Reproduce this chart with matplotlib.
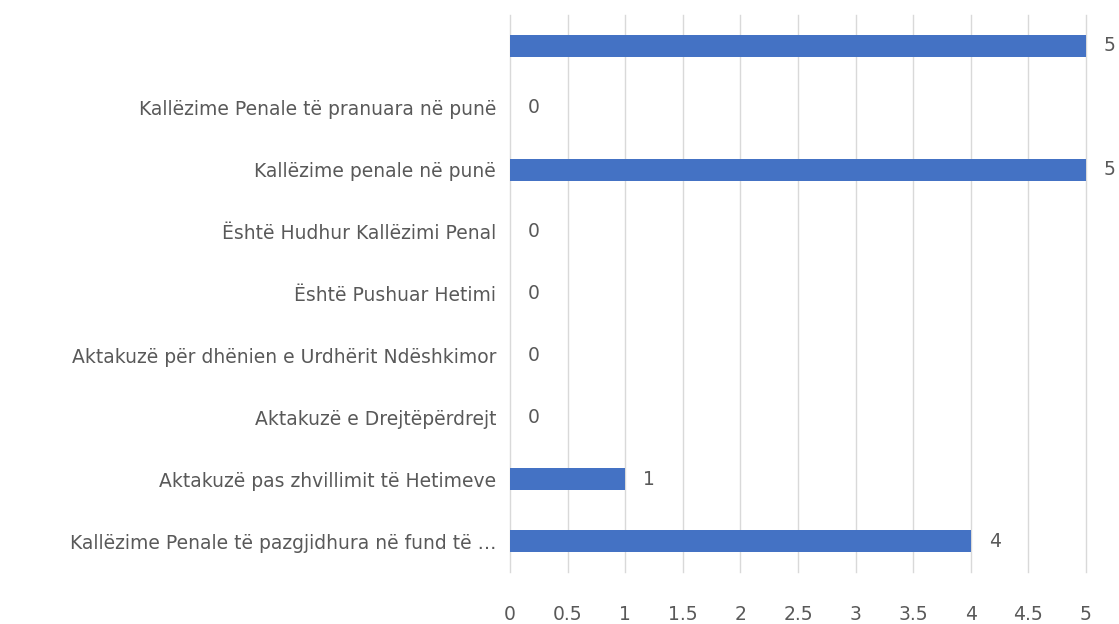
import matplotlib.pyplot as plt

categories = [
    "Kallëzime Penale të pazgjidhura në fund të …",
    "Aktakuzë pas zhvillimit të Hetimeve",
    "Aktakuzë e Drejtëpërdrejt",
    "Aktakuzë për dhënien e Urdhërit Ndëshkimor",
    "Është Pushuar Hetimi",
    "Është Hudhur Kallëzimi Penal",
    "Kallëzime penale në punë",
    "Kallëzime Penale të pranuara në punë",
    "",
]
values = [4, 1, 0, 0, 0, 0, 5, 0, 5]
xticks = [0, 0.5, 1, 1.5, 2, 2.5, 3, 3.5, 4, 4.5, 5]

text_color = "#595959"
fs = 13.5
plt.rcParams['font.family'] = ['DejaVu Sans']

fig = plt.figure(figsize=(11.19, 6.24), dpi=100)
ax = fig.add_axes([0.4558, 0.0833, 0.5147, 0.8927])

pos = range(len(categories))
ax.barh(pos, values, height=0.36, color="#4472C4", zorder=3)
ax.set_xlim(0, 5)
ax.set_ylim(-0.5, len(categories) - 0.5)

# value labels next to the bars
for p, v in zip(pos, values):
    ax.annotate(str(v), (v, p), xytext=(13, 0), textcoords="offset points",
                ha="left", va="center", fontsize=fs, color=text_color,
                annotation_clip=False)

ax.set_xticks(xticks)
ax.set_xticklabels([f"{t:g}" for t in xticks])
ax.set_yticks(list(pos))
ax.set_yticklabels(categories)
ax.tick_params(axis="x", length=0, pad=24, labelsize=fs, labelcolor=text_color)
ax.tick_params(axis="y", length=0, pad=10, labelsize=fs, labelcolor=text_color)
ax.grid(axis="x", color="#d9d9d9", linewidth=1, zorder=0)
for line in ax.get_xgridlines():
    line.set_clip_on(False)
for s in ax.spines.values():
    s.set_visible(False)

fig.savefig("out.png", dpi=100)
